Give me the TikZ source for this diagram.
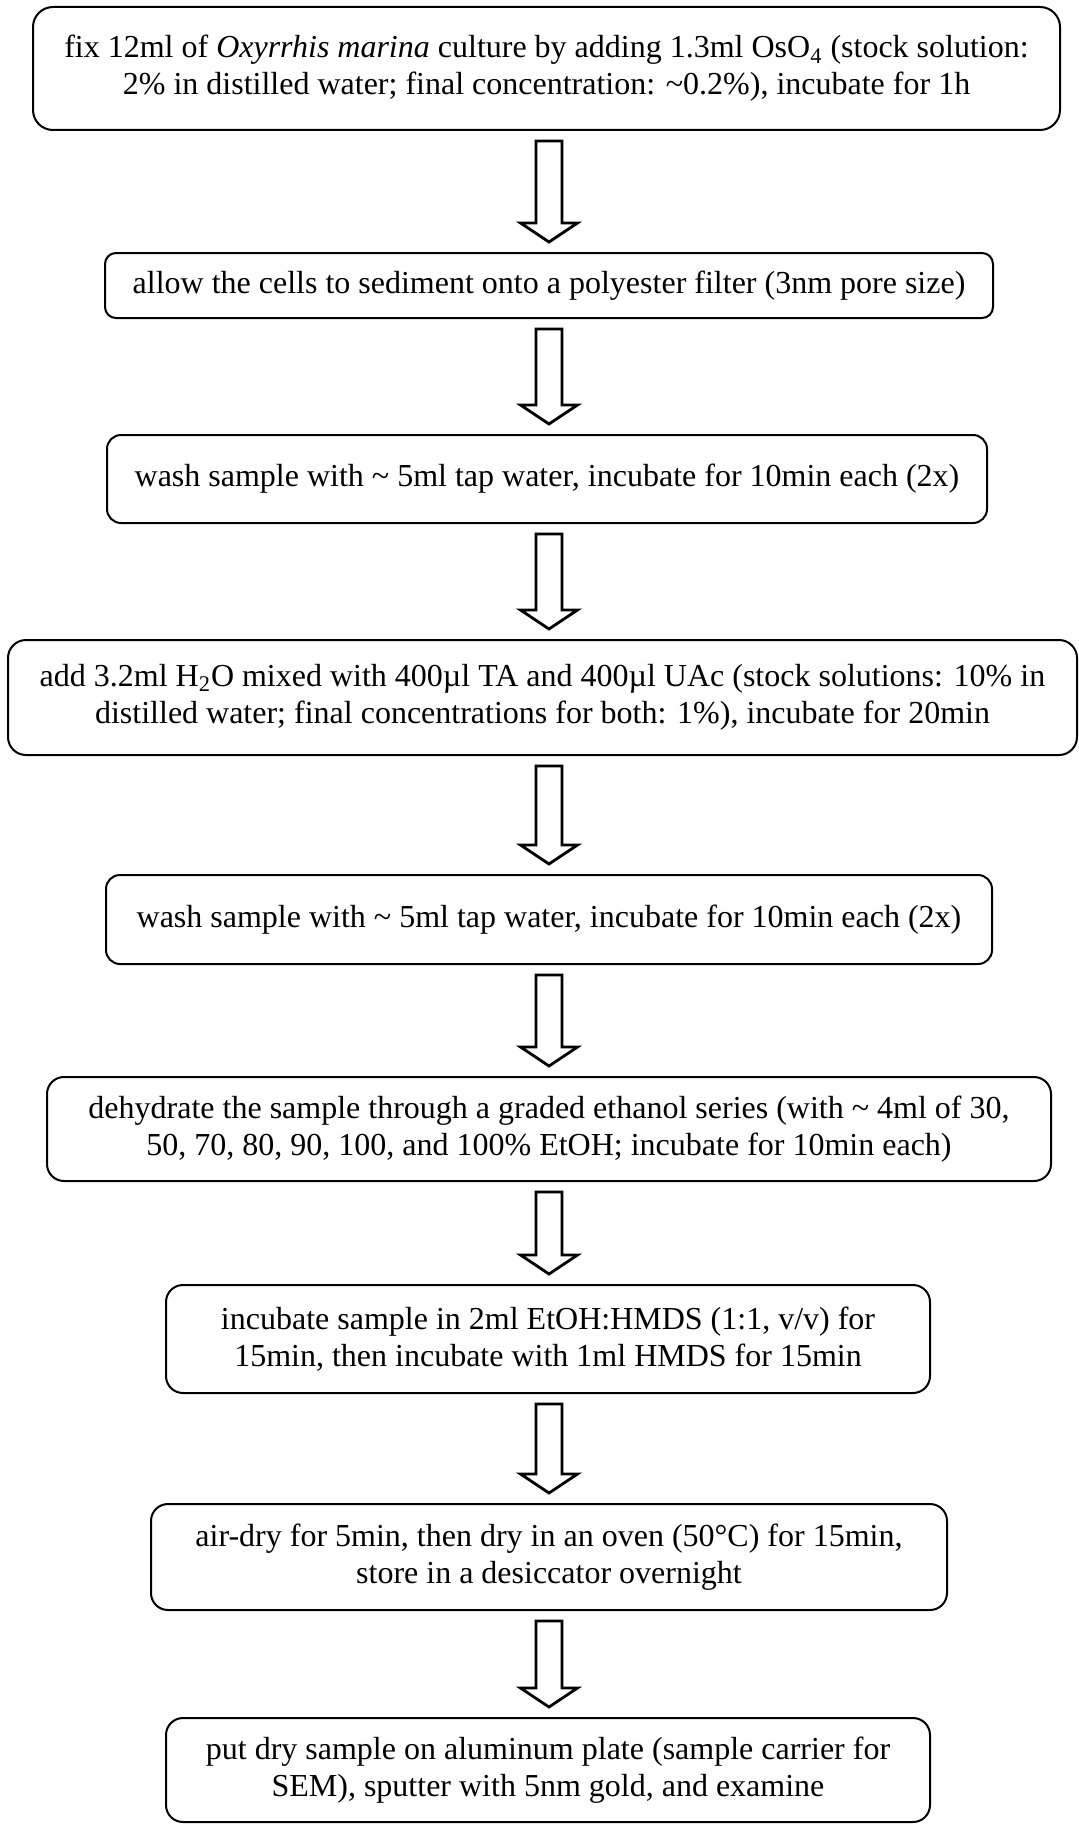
\documentclass[tikz,border=0pt]{standalone}
\usepackage{fontspec}
\setmainfont{Liberation Serif}
\usetikzlibrary{calc}

% hollow block arrow from the bottom of one step to the top of the next
\newcommand\flowarrow[2]{%
  \draw[blockarrow]
    ($(ax |- #1.south)+(-13,10)$) -- ($(ax |- #1.south)+(13,10)$)
    -- ($(ax |- #2.north)+(13,-29)$) -- ($(ax |- #2.north)+(28.5,-29)$)
    -- ($(ax |- #2.north)+(0,-10)$)
    -- ($(ax |- #2.north)+(-28.5,-29)$) -- ($(ax |- #2.north)+(-13,-29)$)
    -- cycle;}

\begin{document}
\begin{tikzpicture}[x=0.5pt,y=-0.5pt,
  stepbox/.style={draw, line width=1pt, rounded corners=8.5pt, align=center,
    inner sep=0pt, font=\fontsize{16pt}{18.5pt}\selectfont},
  blockarrow/.style={draw, line width=1.4pt, fill=white, line join=miter}]
\useasboundingbox[fill=white] (0,0) rectangle (1079,1825);
\coordinate (ax) at (549,0);

\node[stepbox, rounded corners=10pt, minimum width=513.5pt, minimum height=61.5pt] (b1) at (546.5,68.5)
  {fix 12ml of \emph{Oxyrrhis marina} culture by adding 1.3ml OsO\textsubscript{4} (stock solution:\\
   2\% in distilled water; final concentration: \textasciitilde0.2\%), incubate for 1h};

\node[stepbox, rounded corners=5.5pt, minimum width=444pt, minimum height=32.5pt] (b2) at (549,285.5)
  {allow the cells to sediment onto a polyester filter (3nm pore size)};

\node[stepbox, rounded corners=7pt, minimum width=440pt, minimum height=44pt] (b3) at (547,479)
  {wash sample with \textasciitilde{} 5ml tap water, incubate for 10min each (2x)};

\node[stepbox, rounded corners=9pt, minimum width=534.5pt, minimum height=57.5pt] (b4) at (542.5,697.5)
  {add 3.2ml H\textsubscript{2}O mixed with 400µl TA and 400µl UAc (stock solutions: 10\% in\\
   distilled water; final concentrations for both: 1\%), incubate for 20min};

\node[stepbox, rounded corners=7pt, minimum width=443pt, minimum height=44.5pt] (b5) at (549,919.5)
  {wash sample with \textasciitilde{} 5ml tap water, incubate for 10min each (2x)};

\node[stepbox, minimum width=502pt, minimum height=52pt] (b6) at (549,1129)
  {dehydrate the sample through a graded ethanol series (with \textasciitilde{} 4ml of 30,\\
   50, 70, 80, 90, 100, and 100\% EtOH; incubate for 10min each)};

\node[stepbox, minimum width=382pt, minimum height=54pt] (b7) at (548,1339)
  {incubate sample in 2ml EtOH:HMDS (1:1, v/v) for\\
   15min, then incubate with 1ml HMDS for 15min};

\node[stepbox, minimum width=398pt, minimum height=53pt] (b8) at (549,1557)
  {air-dry for 5min, then dry in an oven (50°C) for 15min,\\
   store in a desiccator overnight};

\node[stepbox, minimum width=382pt, minimum height=52pt] (b9) at (548,1770)
  {put dry sample on aluminum plate (sample carrier for\\
   SEM), sputter with 5nm gold, and examine};

\flowarrow{b1}{b2}
\flowarrow{b2}{b3}
\flowarrow{b3}{b4}
\flowarrow{b4}{b5}
\flowarrow{b5}{b6}
\flowarrow{b6}{b7}
\flowarrow{b7}{b8}
\flowarrow{b8}{b9}
\end{tikzpicture}
\end{document}
